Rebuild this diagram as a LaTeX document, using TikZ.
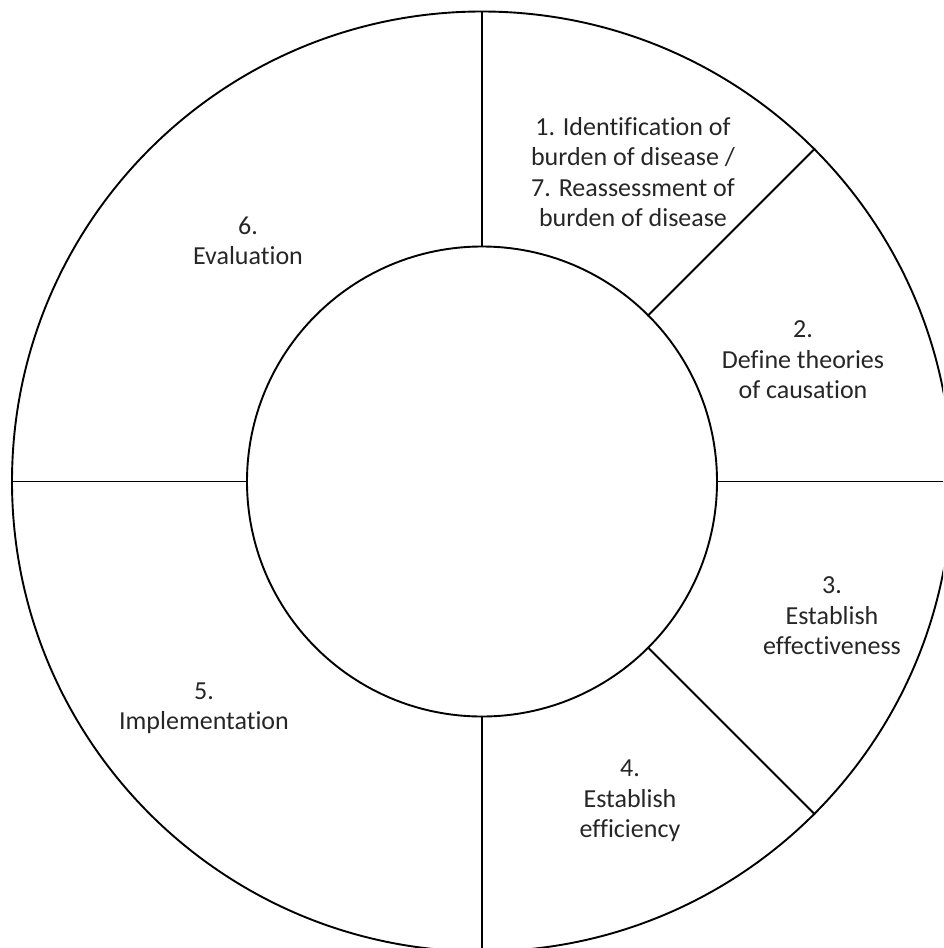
\documentclass[tikz,border=0pt]{standalone}
\usepackage{fontspec}
\setmainfont[Ligatures=NoCommon]{Carlito}
\begin{document}
\begin{tikzpicture}[x=1pt,y=-1pt,
  ring/.style={circle,draw=black,line width=1.9pt,inner sep=0pt,outer sep=0pt},
  divider/.style={line width=1.9pt,line cap=rect},
  lbl/.style={align=center,font=\fontsize{26}{30.5}\selectfont,text=black!85,inner sep=0pt}]
\useasboundingbox (0,0) rectangle (943,948);
\begin{scope}
\clip (0,0) rectangle (943,948);
\coordinate (c) at (482,481.5);
\node[ring,minimum size=940pt] (outer) at (c) {};
\node[ring,minimum size=470pt] (inner) at (c) {};
\draw[divider] (inner.90) -- (outer.90);
\draw[divider] (inner.45) -- (outer.45);
\draw[divider] (inner.0) -- (outer.0);
\draw[divider] (inner.-45) -- (outer.-45);
\draw[divider] (inner.-90) -- (outer.-90);
\draw[divider] (inner.180) -- (outer.180);
\end{scope}
\node[lbl] (s1) at (633,172) {1. Identification of\\burden of disease /\\7. Reassessment of\\burden of disease};
\node[lbl] (s2) at (803,360) {2.\\Define theories\\of causation};
\node[lbl] (s3) at (832,616) {3.\\Establish\\effectiveness};
\node[lbl] (s4) at (630,801) {4.\\Establish\\efficiency};
\node[lbl] (s5) at (204,708) {5.\\Implementation};
\node[lbl] (s6) at (248,241) {6.\\Evaluation};
\end{tikzpicture}
\end{document}
